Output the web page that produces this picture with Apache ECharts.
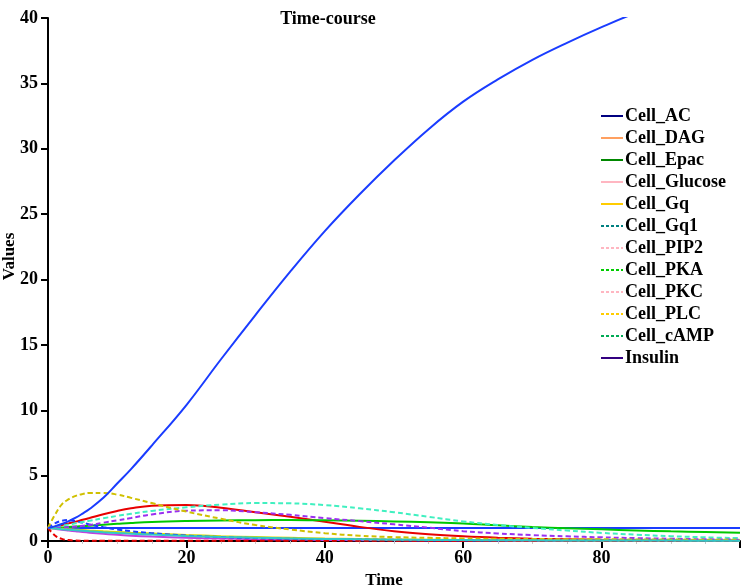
<!DOCTYPE html>
<html>
<head>
<meta charset="utf-8">
<script src="https://cdn.jsdelivr.net/npm/echarts@6/dist/echarts.min.js"></script>
<style>
html, body { margin: 0; padding: 0; background: #fff; }
#chart { width: 743px; height: 588px; }
</style>
</head>
<body>
<div id="chart"></div>
<script>
// time points of the simulation
var time = [0, 1, 2, 3, 4, 5, 6, 8, 10, 12, 15, 20, 25, 30, 35, 40, 45, 50, 55, 60, 65, 70, 75, 80, 85, 90, 95, 100];

// species values
var cellAC = [1, 1, 1, 1, 1, 1, 1, 1, 1, 1, 1, 1, 1, 1, 1, 1, 1, 1, 1, 1, 1, 1, 1, 1, 1, 1, 1, 1];
var cellDAG = [1, 1.1, 1.22, 1.35, 1.48, 1.62, 1.76, 2.05, 2.3, 2.5, 2.7, 2.76, 2.55, 2.2, 1.85, 1.48, 1.08, 0.75, 0.52, 0.36, 0.25, 0.18, 0.13, 0.09, 0.07, 0.05, 0.04, 0.03];
var cellEpac = [1, 1.02, 1.04, 1.07, 1.1, 1.14, 1.17, 1.24, 1.31, 1.38, 1.46, 1.53, 1.57, 1.59, 1.6, 1.58, 1.55, 1.5, 1.43, 1.34, 1.2, 1.07, 0.97, 0.89, 0.81, 0.74, 0.69, 0.64];
var cellGlucose = [1, 0.93, 0.86, 0.8, 0.74, 0.68, 0.63, 0.55, 0.47, 0.41, 0.34, 0.25, 0.19, 0.14, 0.11, 0.08, 0.06, 0.05, 0.04, 0.03, 0.03, 0.02, 0.02, 0.02, 0.01, 0.01, 0.01, 0.01];
var cellGq = [1, 0.97, 0.93, 0.9, 0.87, 0.84, 0.8, 0.74, 0.69, 0.64, 0.57, 0.46, 0.37, 0.3, 0.24, 0.19, 0.15, 0.12, 0.1, 0.08, 0.07, 0.06, 0.05, 0.04, 0.04, 0.03, 0.03, 0.03];
var cellGq1 = [1, 1.35, 1.55, 1.6, 1.52, 1.4, 1.27, 1.05, 0.88, 0.75, 0.6, 0.42, 0.3, 0.22, 0.17, 0.13, 0.11, 0.09, 0.08, 0.07, 0.06, 0.05, 0.05, 0.04, 0.04, 0.04, 0.03, 0.03];
var cellPIP2 = [1, 0.42, 0.16, 0.07, 0.03, 0.02, 0.01, 0.01, 0.01, 0.01, 0.01, 0.01, 0.01, 0.01, 0.01, 0.01, 0.01, 0.01, 0.01, 0.01, 0.01, 0.01, 0.01, 0.01, 0.01, 0.01, 0.01, 0.01];
var cellPKA = [1, 1.08, 1.17, 1.26, 1.35, 1.45, 1.55, 1.74, 1.92, 2.08, 2.3, 2.58, 2.78, 2.9, 2.88, 2.75, 2.5, 2.2, 1.85, 1.5, 1.22, 1.0, 0.8, 0.62, 0.48, 0.37, 0.28, 0.22];
var cellPKC = [1, 1.01, 1.03, 1.06, 1.1, 1.16, 1.22, 1.4, 1.58, 1.76, 2.03, 2.32, 2.35, 2.2, 2.0, 1.75, 1.52, 1.28, 1.02, 0.75, 0.58, 0.45, 0.36, 0.28, 0.22, 0.17, 0.13, 0.1];
var cellPLC = [1, 2.0, 2.8, 3.2, 3.45, 3.6, 3.68, 3.68, 3.55, 3.3, 2.9, 2.25, 1.7, 1.22, 0.88, 0.6, 0.4, 0.3, 0.24, 0.2, 0.17, 0.15, 0.14, 0.13, 0.12, 0.11, 0.1, 0.1];
var cellcAMP = [1, 0.95, 0.9, 0.86, 0.82, 0.78, 0.74, 0.67, 0.61, 0.56, 0.49, 0.39, 0.31, 0.25, 0.2, 0.16, 0.13, 0.1, 0.08, 0.07, 0.06, 0.05, 0.04, 0.04, 0.03, 0.03, 0.02, 0.02];
var insulin = [1, 1.12, 1.3, 1.52, 1.78, 2.1, 2.45, 3.3, 4.4, 5.5, 7.3, 10.4, 13.9, 17.3, 20.6, 23.7, 26.5, 29.1, 31.5, 33.6, 35.3, 36.8, 38.1, 39.3, 40.4, 41.3, 42.1, 42.8];

var names = ['Cell_AC', 'Cell_DAG', 'Cell_Epac', 'Cell_Glucose', 'Cell_Gq', 'Cell_Gq1', 'Cell_PIP2', 'Cell_PKA', 'Cell_PKC', 'Cell_PLC', 'Cell_cAMP', 'Insulin'];
var values = [cellAC, cellDAG, cellEpac, cellGlucose, cellGq, cellGq1, cellPIP2, cellPKA, cellPKC, cellPLC, cellcAMP, insulin];
// colour of the curve in the plot
var lineColors = ['#1a3cff', '#e80000', '#00c800', '#c040e0', '#d8d800', '#1a3cff', '#e80000', '#40f0c0', '#9a30f0', '#d0c000', '#30c8c8', '#1a3cff'];
var dashed = [false, false, false, false, false, true, true, true, true, true, false, false];
// colour of the swatch in the legend
var legendColors = ['#000080', '#ffa060', '#008800', '#ffb6c1', '#ffcc00', '#008080', '#ffb6c1', '#00cc00', '#ffb6c1', '#ffcc00', '#00aa55', '#330080'];
var legendDashed = [false, false, false, false, false, true, true, true, true, true, true, false];

var font = 'Liberation Serif';
var chart = echarts.init(document.getElementById('chart'));

var series = []
var legendData = []
for (var i = 0; i < names.length; i++) {
  var pts = []
  for (var j = 0; j < time.length; j++) {
    pts.push([time[j], values[i][j]])
  }
  series.push({
    name: names[i],
    type: 'line',
    data: pts,
    symbol: 'none',
    smooth: 0.4,
    clip: true,
    silent: true,
    lineStyle: {
      color: lineColors[i],
      width: 2,
      type: dashed[i] ? [5, 3] : 'solid'
    },
    itemStyle: { color: lineColors[i] }
  })
  legendData.push({
    name: names[i],
    itemStyle: { color: legendColors[i], opacity: 0 },
    lineStyle: {
      color: legendColors[i],
      width: 2,
      type: legendDashed[i] ? [3, 2] : 'solid'
    }
  })
}

chart.setOption({
  animation: false,
  title: {
    text: 'Time-course',
    left: 323,
    top: 5,
    textAlign: 'center',
    textStyle: { fontFamily: font, fontWeight: 'bold', fontSize: 18, color: '#000' }
  },
  legend: {
    orient: 'vertical',
    left: 600,
    top: 107,
    padding: 0,
    itemWidth: 22,
    itemHeight: 12,
    itemGap: 4,
    data: legendData,
    textStyle: { fontFamily: font, fontWeight: 'bold', fontSize: 18, color: '#000', padding: [0, 0, 0, -3] }
  },
  grid: { left: 48, right: 3, top: 18, bottom: 47, outerBoundsMode: 'none' },
  xAxis: {
    type: 'value',
    min: 0,
    max: 100,
    interval: 20,
    name: 'Time',
    nameLocation: 'middle',
    nameGap: 31,
    nameMoveOverlap: false,
    nameTextStyle: { fontFamily: font, fontWeight: 'bold', fontSize: 17, color: '#000', padding: [0, 20, 0, 0] },
    axisLine: { lineStyle: { color: '#000', width: 2 } },
    axisTick: { length: 7, lineStyle: { color: '#000', width: 2 } },
    minorTick: { show: true, splitNumber: 4, length: 3, lineStyle: { color: '#c8c8c8', width: 1 } },
    axisLabel: { showMaxLabel: false, margin: 8, fontFamily: font, fontWeight: 'bold', fontSize: 18, color: '#000' },
    splitLine: { show: false }
  },
  yAxis: {
    type: 'value',
    min: 0,
    max: 40,
    interval: 5,
    name: 'Values',
    nameLocation: 'middle',
    nameGap: 30,
    nameMoveOverlap: false,
    nameTextStyle: { fontFamily: font, fontWeight: 'bold', fontSize: 17, color: '#000', padding: [0, 0, 0, 46] },
    axisLine: { show: true, lineStyle: { color: '#000', width: 2 } },
    axisTick: { show: true, length: 7, lineStyle: { color: '#000', width: 2 } },
    axisLabel: { margin: 10, fontFamily: font, fontWeight: 'bold', fontSize: 18, color: '#000' },
    splitLine: { show: false }
  },
  series: series
});
</script>
</body>
</html>
